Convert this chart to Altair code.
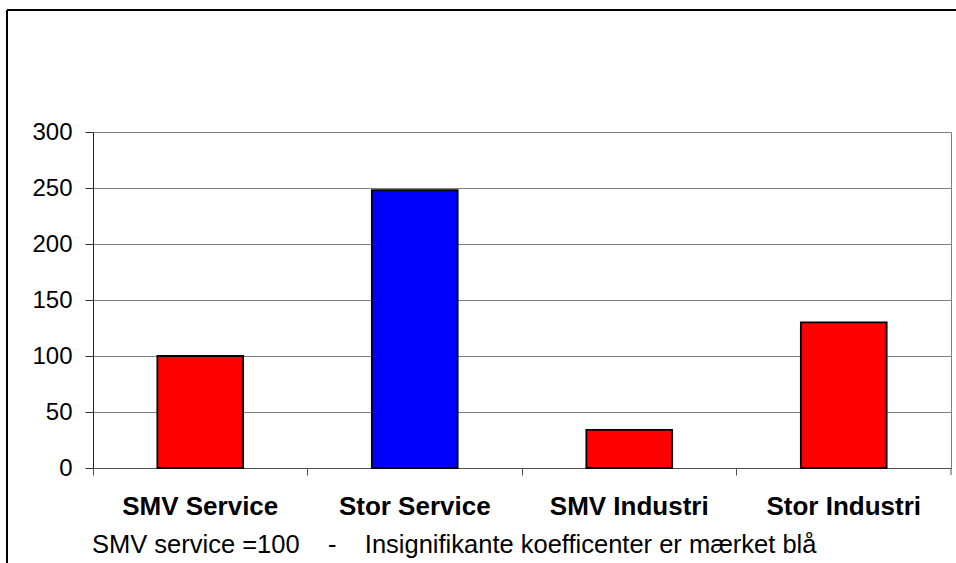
import altair as alt
import pandas as pd

categories = ["SMV Service", "Stor Service", "SMV Industri", "Stor Industri"]
values = [100, 248, 34, 130]
colors = ["#FF0000", "#0000FF", "#FF0000", "#FF0000"]
y_ticks = [0, 50, 100, 150, 200, 250, 300]
gap = "\u00a0" * 4
subtitle = "SMV service =100" + gap + "-" + gap + "Insignifikante koefficenter er mærket blå"

df = pd.DataFrame({"cat": categories, "val": values, "col": colors})
FONT = "Liberation Sans"

base = alt.Chart(df)

bars = base.mark_bar(
    width=alt.RelativeBandSize(0.4), stroke="#000000", strokeWidth=1.8
).encode(
    x=alt.X(
        "cat:N",
        sort=categories,
        scale=alt.Scale(paddingInner=0, paddingOuter=0),
        axis=alt.Axis(
            title=None,
            labelAngle=0,
            labelFont=FONT,
            labelFontSize=26,
            labelFontWeight="bold",
            labelColor="#000000",
            labelBaseline="alphabetic",
            labelPadding=39,
            tickSize=7,
            tickColor="#505050",
            domainColor="#505050",
            bandPosition=0,
            grid=False,
        ),
    ),
    y=alt.Y(
        "val:Q",
        scale=alt.Scale(domain=[0, 300], nice=False),
        axis=alt.Axis(
            title=None,
            values=y_ticks,
            labelFont=FONT,
            labelFontSize=24,
            labelColor="#000000",
            labelPadding=13,
            tickSize=8,
            tickColor="#303030",
            domainColor="#202020",
            gridColor="#808080",
            gridWidth=1,
        ),
    ),
    color=alt.Color("col:N", scale=None),
)

one = alt.Data(values=[{"a": 1}])

top_frame = alt.Chart(one).mark_rule(color="#000000", strokeWidth=2).encode(
    x=alt.value(-86), x2=alt.value(863), y=alt.value(-122)
)
left_frame = alt.Chart(one).mark_rule(color="#000000", strokeWidth=2).encode(
    x=alt.value(-86), y=alt.value(-122), y2=alt.value(431)
)
right_tick = alt.Chart(one).mark_rule(color="#505050", strokeWidth=1).encode(
    x=alt.value(858), y=alt.value(336), y2=alt.value(343)
)
sub = alt.Chart(one).mark_text(
    align="left", baseline="alphabetic", font=FONT, fontSize=25.5, color="#000000"
).encode(x=alt.value(-1), y=alt.value(421), text=alt.value(subtitle))

chart = (
    alt.layer(bars, top_frame, left_frame, right_tick, sub)
    .properties(
        width=858,
        height=336,
        autosize=alt.AutoSizeParams(type="none"),
        padding={"left": 93, "top": 132, "right": 5, "bottom": 95},
        background="#FFFFFF",
    )
    .configure_view(stroke="#808080", strokeWidth=1)
)

chart.save("out.html", embed_options={"renderer": "svg", "actions": False})
